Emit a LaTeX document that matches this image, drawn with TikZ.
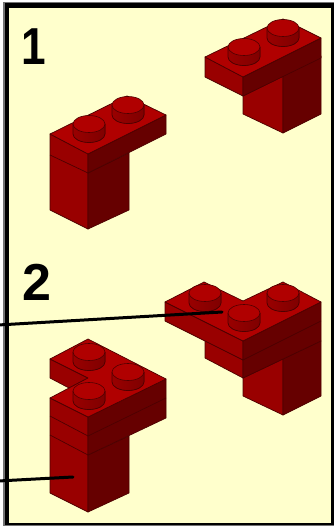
\documentclass[tikz,border=0pt]{standalone}
\usepackage{fontspec}
\setmainfont{Liberation Sans}
\definecolor{bg}{HTML}{FFFFCC}
\definecolor{topc}{HTML}{B00000}
\definecolor{leftc}{HTML}{990000}
\definecolor{rightc}{HTML}{660000}
\definecolor{edgec}{HTML}{4D0000}
\tikzset{
  topface/.style={fill=topc,draw=edgec,line width=0.7pt,line join=round},
  leftface/.style={fill=leftc,draw=edgec,line width=0.7pt,line join=round},
  rightface/.style={fill=rightc,draw=edgec,line width=0.7pt,line join=round},
  seam/.style={draw=edgec,line width=0.7pt},
  leader/.style={draw=black,line width=3pt,line cap=round},
  numeral/.style={font=\fontsize{52}{52}\selectfont\bfseries,inner sep=0pt,text=black}
}
\newcommand{\studpart}[2]{%
  \fill[left color=leftc,right color=rightc!50!leftc]
    (#1-16,#2) -- (#1-16,#2+10) arc[start angle=180,end angle=0,x radius=16,y radius=8.5]
    -- (#1+16,#2) -- cycle;
  \draw[edgec,line width=0.7pt]
    (#1-16,#2) -- (#1-16,#2+10) arc[start angle=180,end angle=0,x radius=16,y radius=8.5]
    -- (#1+16,#2);
  \filldraw[fill=topc,draw=edgec,line width=0.6pt] (#1,#2) ellipse[x radius=16,y radius=8.5];
}
\begin{document}
\begin{tikzpicture}[x=1pt,y=-1pt]
\useasboundingbox (0,0) rectangle (334,526);
\fill[white] (0,0) rectangle (334,526);
\fill[black!55] (3,2) rectangle (334,526);
\fill[black] (4.5,3.5) rectangle (333.5,525);
\fill[bg] (9,8) rectangle (331,522.5);

% step 1, left brick
\filldraw[leftface] (50,134) -- (88,154) -- (88,229) -- (50,210) -- cycle;
\filldraw[rightface] (88,173) -- (129,153) -- (129,210) -- (88,229) -- cycle;
\filldraw[rightface] (88,154) -- (166,115) -- (166,134) -- (88,173) -- cycle;
\filldraw[topface] (50,134) -- (127,96) -- (166,115) -- (88,154) -- cycle;
\draw[seam] (50,155) -- (88,173);
\studpart{128}{105}
\studpart{89}{124}

% step 1, right brick
\filldraw[leftface] (243,96) -- (283,76) -- (283,133) -- (243,114) -- cycle;
\filldraw[rightface] (283,76) -- (321,56) -- (321,114) -- (283,133) -- cycle;
\filldraw[leftface] (205,57) -- (243,77) -- (243,96) -- (205,77) -- cycle;
\filldraw[rightface] (243,77) -- (321,38) -- (321,58) -- (243,96) -- cycle;
\filldraw[topface] (205,57) -- (283,19) -- (321,38) -- (243,77) -- cycle;
\studpart{283}{28}
\studpart{244}{47}

% step 2, right assembly
\filldraw[leftface] (243,378) -- (283,359) -- (283,415) -- (243,396) -- cycle;
\filldraw[rightface] (283,359) -- (321,341) -- (321,396) -- (283,415) -- cycle;
\filldraw[leftface] (205,340) -- (243,360) -- (243,378) -- (205,358) -- cycle;
\filldraw[leftface] (165,302) -- (243,341) -- (243,360) -- (165,321) -- cycle;
\filldraw[rightface] (243,341) -- (321,302) -- (321,341) -- (243,378) -- cycle;
\draw[seam] (243,360) -- (321,321);
\filldraw[topface] (165,302) -- (204,282) -- (243,301) -- (283,282) -- (321,302) -- (243,341) -- cycle;
\studpart{283}{293}
\studpart{205}{293}
\studpart{244}{313}

% step 2, left assembly
\filldraw[leftface] (50,359) -- (88,378) -- (69,388) -- (50,378) -- cycle;
\filldraw[leftface] (50,398) -- (88,417) -- (88,512) -- (50,493) -- cycle;
\draw[seam] (50,416) -- (88,436);
\draw[seam] (50,435) -- (88,455);
\filldraw[rightface] (88,455) -- (129,436) -- (129,493) -- (88,512) -- cycle;
\filldraw[rightface] (88,417) -- (166,379) -- (166,418) -- (88,455) -- cycle;
\draw[seam] (88,436) -- (166,398);
\filldraw[topface] (50,359) -- (88,339) -- (166,379) -- (88,417) -- (50,398) -- (88,378) -- cycle;
\studpart{128}{372}
\studpart{89}{352}
\studpart{89}{391}

% numerals
\node[numeral,xscale=0.85] (one) at (34,47) {1};
\node[numeral] (two) at (37,282) {2};

% leaders
\coordinate (aS) at (-2,325);
\coordinate (aE) at (222,312);
\coordinate (bS) at (-2,481);
\coordinate (bE) at (73,477);
\draw[leader] (aS) -- (aE);
\draw[leader] (bS) -- (bE);
\end{tikzpicture}
\end{document}
